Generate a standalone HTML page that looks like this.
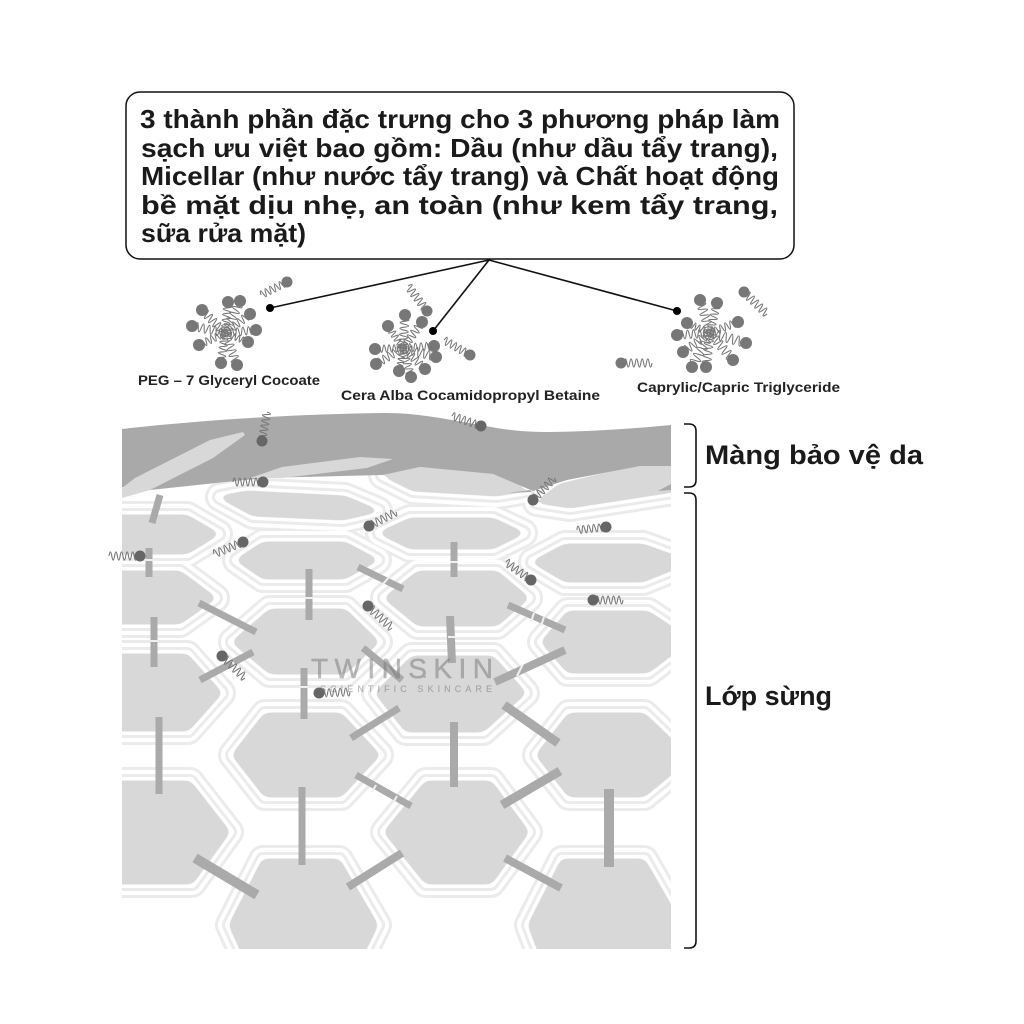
<!DOCTYPE html>
<html lang="vi">
<head>
<meta charset="utf-8">
<title>Thành phần làm sạch</title>
<style>
html,body{margin:0;padding:0;background:#fff;width:1024px;height:1024px;overflow:hidden}
svg{display:block}
text{font-family:"Liberation Sans","DejaVu Sans",sans-serif}
</style>
</head>
<body>
<svg width="1024" height="1024" viewBox="0 0 1024 1024" xmlns="http://www.w3.org/2000/svg">
<defs>
<path id="w" vector-effect="non-scaling-stroke" fill="none" d="M.1 0Q.145 -.26 .19 0T.28 0T.37 0T.46 0T.55 0T.64 0T.73 0T.82 0T.91 0T1 0"/>
<clipPath id="c"><rect x="122" y="400" width="549" height="549"/></clipPath>
<filter id="r" filterUnits="userSpaceOnUse" x="60" y="400" width="680" height="620" color-interpolation-filters="sRGB">
<feGaussianBlur stdDeviation="4"/>
<feColorMatrix type="matrix" values="1 0 0 0 0 0 1 0 0 0 0 0 1 0 0 0 0 0 12 -5.5"/>
</filter>
<g id="hexes" stroke-linejoin="round">
<polygon points="220,497 247,492 345,497 378,511 343,519 253,515"/>
<polygon points="383,475 420,467 493,474 527,490 497,495 413,490"/>
<polygon points="537,502 560,485 640,466 680,466 680,490 570,507"/>
<polygon points="100,516 187,516 218,534 187,553 100,553"/>
<polygon points="237,560 263,543 345,543 377,560 345,578 263,578"/>
<polygon points="380,533 410,519 493,519 523,533 493,548 410,548"/>
<polygon points="533,562 565,545 643,545 690,562 643,581 565,581"/>
<polygon points="100,572 180,572 215,598 180,623 100,623"/>
<polygon points="233,642 270,610 345,610 378,642 345,673 270,673"/>
<polygon points="385,598 418,572 497,572 528,598 497,625 418,625"/>
<polygon points="542,642 568,612 648,612 690,640 648,672 568,672"/>
<polygon points="100,655 187,655 221,693 188,730 100,730"/>
<polygon points="376,693 412,657 493,657 525,693 483,731 406,731"/>
<polygon points="233,755 265,714 341,714 379,755 341,796 265,796"/>
<polygon points="537,755 569,714 644,714 690,758 644,796 569,796"/>
<polygon points="100,782 190,782 229,832 192,883 100,883"/>
<polygon points="385,832 426,782 491,782 528,832 491,883 426,883"/>
<polygon points="230,925 263,860 339,860 377,925 350,980 255,980"/>
<polygon points="529,925 562,860 644,860 690,940 690,980 550,980"/>
</g>
</defs>

<!-- title box -->
<rect x="126" y="92" width="668" height="167" rx="14" fill="#fff" stroke="#111" stroke-width="1.5"/>
<g font-size="26" font-weight="700" fill="#1a1a1a">
<text x="140" y="128" textLength="640" lengthAdjust="spacingAndGlyphs">3 thành phần đặc trưng cho 3 phương pháp làm</text>
<text x="141" y="157" textLength="637" lengthAdjust="spacingAndGlyphs">sạch ưu việt bao gồm: Dầu (như dầu tẩy trang),</text>
<text x="141" y="185" textLength="638" lengthAdjust="spacingAndGlyphs">Micellar (như nước tẩy trang) và Chất hoạt động</text>
<text x="141" y="214" textLength="637" lengthAdjust="spacingAndGlyphs">bề mặt dịu nhẹ, an toàn (như kem tẩy trang,</text>
<text x="141" y="242" textLength="165" lengthAdjust="spacingAndGlyphs">sữa rửa mặt)</text>
</g>

<!-- skin layers -->
<g clip-path="url(#c)">
<use href="#hexes" fill="#ebebeb" stroke="#ebebeb" stroke-width="30"/>
<use href="#hexes" fill="#fff" stroke="#fff" stroke-width="24"/>
<use href="#hexes" fill="#ebebeb" stroke="#ebebeb" stroke-width="16"/>
<use href="#hexes" fill="#fff" stroke="#fff" stroke-width="10"/>
<use href="#hexes" fill="#d8d8d8" stroke="#d8d8d8" stroke-width="3" filter="url(#r)"/>

<path d="M122 429C200 420 300 414 385 413C420 413 450 420 480 425C510 431 530 432 547 432C590 432 640 428 671 425L671 466L640 466L567 480L533 491L493 474L420 467L383 475L263 478L150 490L122 487Z" fill="#a9a9a9"/>
<polygon points="122,498 122,488 135,478 210,440 243,432 245,435 213,458 150,490" fill="#d8d8d8"/>
<polygon points="250,478 282,467 360,457 393,459 367,468 283,478" fill="#d8d8d8"/>
<polygon points="383,475 420,467 493,474 527,490 497,495 413,490" fill="#d8d8d8"/>
<polygon points="508,493 530,490 532,492" fill="#a9a9a9"/>
<polygon points="537,502 560,485 640,466 671,467 671,490 570,507" fill="#d8d8d8"/>
<polygon points="658,491 671,484 671,490" fill="#a9a9a9"/>

<!-- bars -->
<g stroke="#aaa" fill="none">
<path stroke-width="7" d="M160 495L152 523M149 548V577M154 617V667M199 603L256 632M358 567L403 589M309 569V620M454 542V577M200 680L253 652M304 668V719M363 648L402 680M508 605L565 630M351 738L399 708M159 717V794M302 787V865M356 775L411 806"/>
<path stroke-width="8" d="M450 616L452 663M495 682L565 650M454 722V787M348 887L402 853M505 858L561 888"/>
<path stroke-width="9" d="M504 705L558 743M502 805L560 771"/>
<path stroke-width="10" d="M609 789V867M195 858L257 895"/>
</g>
<g stroke="#f0f0f0" stroke-width="2" fill="none">
<path d="M145 560H153M150 641H158M300 687H308M305 598H313M450 562H458M448 637H456"/>
<path d="M383 584L390 576M531 622L534 613M541 626L544 617M517 676L523 664M372 792L376 785M393 803L397 796M232 661L236 668"/>
</g>
</g>

<!-- connectors -->
<g stroke="#111" stroke-width="1.6" fill="none">
<path d="M489 260L270 308M489 260L433 331M489 260L677 311"/>
</g>
<circle cx="270" cy="308" r="4" fill="#000"/>
<circle cx="433" cy="331" r="4" fill="#000"/>
<circle cx="677" cy="311" r="4" fill="#000"/>

<!-- molecule tails -->
<g stroke="#777" stroke-width="1.1">
<use href="#w" transform="matrix(-3 31 -31 -3 228 302)"/>
<use href="#w" transform="matrix(-15 32 -32 -15 240 301)"/>
<use href="#w" transform="matrix(23 23 -23 23 202 310)"/>
<use href="#w" transform="matrix(-25 19 -19 -25 250 314)"/>
<use href="#w" transform="matrix(33 7 -7 33 192 326)"/>
<use href="#w" transform="matrix(-31 3 -3 -31 256 330)"/>
<use href="#w" transform="matrix(26 -12 12 26 199 345)"/>
<use href="#w" transform="matrix(-23 -9 9 -23 248 342)"/>
<use href="#w" transform="matrix(4 -30 30 4 221 363)"/>
<use href="#w" transform="matrix(-12 -32 32 -12 237 365)"/>

<use href="#w" transform="matrix(-2 33 -33 -2 405 315)"/>
<use href="#w" transform="matrix(-19 26 -26 -19 422 322)"/>
<use href="#w" transform="matrix(15 22 -22 15 388 326)"/>
<use href="#w" transform="matrix(-31 2 -2 -31 434 346)"/>
<use href="#w" transform="matrix(-33 -9 9 -33 436 357)"/>
<use href="#w" transform="matrix(28 -1 1 28 375 349)"/>
<use href="#w" transform="matrix(27 -16 16 27 376 364)"/>
<use href="#w" transform="matrix(-22 -21 21 -22 425 369)"/>
<use href="#w" transform="matrix(4 -23 23 4 399 371)"/>
<use href="#w" transform="matrix(-8 -29 29 -8 411 377)"/>

<use href="#w" transform="matrix(10 33 -33 10 700 300)"/>
<use href="#w" transform="matrix(-7 30 -30 -7 717 303)"/>
<use href="#w" transform="matrix(23 10 -10 23 687 323)"/>
<use href="#w" transform="matrix(-28 11 -11 -28 738 322)"/>
<use href="#w" transform="matrix(33 -2 2 33 677 335)"/>
<use href="#w" transform="matrix(-36 -10 10 -36 746 343)"/>
<use href="#w" transform="matrix(27 -19 19 27 683 352)"/>
<use href="#w" transform="matrix(-23 -27 27 -23 733 360)"/>
<use href="#w" transform="matrix(18 -34 34 18 692 367)"/>
<use href="#w" transform="matrix(4 -34 34 4 706 367)"/>

<use href="#w" transform="matrix(-26 13 -13 -26 287 282)"/>
<use href="#w" transform="matrix(-19 -25 25 -19 427 311)"/>
<use href="#w" transform="matrix(-26 -15 15 -26 470 355)"/>
<use href="#w" transform="matrix(23 22 -22 23 744 292)"/>
<use href="#w" transform="matrix(31 0 0 31 621 363)"/>
<use href="#w" transform="matrix(5 -29 29 5 262 441)"/>
<use href="#w" transform="matrix(-30 0 0 -30 263 482)"/>
<use href="#w" transform="matrix(27 -14 14 27 369 526)"/>
<use href="#w" transform="matrix(-29 12 -12 -29 243 542)"/>
<use href="#w" transform="matrix(-31 0 0 -31 140 556)"/>
<use href="#w" transform="matrix(24 22 -22 24 368 606)"/>
<use href="#w" transform="matrix(23 22 -22 23 222 656)"/>
<use href="#w" transform="matrix(31 -1 1 31 319 693)"/>
<use href="#w" transform="matrix(-29 -10 10 -29 481 426)"/>
<use href="#w" transform="matrix(21 -22 22 21 533 500)"/>
<use href="#w" transform="matrix(-29 3 -3 -29 606 527)"/>
<use href="#w" transform="matrix(-25 -18 18 -25 531 580)"/>
<use href="#w" transform="matrix(30 0 0 30 593 600)"/>
</g>

<!-- molecule heads -->
<g fill="#777">
<circle cx="228" cy="302" r="6"/><circle cx="240" cy="301" r="6"/><circle cx="202" cy="310" r="6"/><circle cx="250" cy="314" r="6"/><circle cx="192" cy="326" r="6"/><circle cx="256" cy="330" r="6"/><circle cx="199" cy="345" r="6"/><circle cx="248" cy="342" r="6"/><circle cx="221" cy="363" r="6"/><circle cx="237" cy="365" r="6"/>
<circle cx="405" cy="315" r="6"/><circle cx="422" cy="322" r="6"/><circle cx="388" cy="326" r="6"/><circle cx="434" cy="346" r="6"/><circle cx="436" cy="357" r="6"/><circle cx="375" cy="349" r="6"/><circle cx="376" cy="364" r="6"/><circle cx="425" cy="369" r="6"/><circle cx="399" cy="371" r="6"/><circle cx="411" cy="377" r="6"/>
<circle cx="700" cy="300" r="6"/><circle cx="717" cy="303" r="6"/><circle cx="687" cy="323" r="6"/><circle cx="738" cy="322" r="6"/><circle cx="677" cy="335" r="6"/><circle cx="746" cy="343" r="6"/><circle cx="683" cy="352" r="6"/><circle cx="733" cy="360" r="6"/><circle cx="692" cy="367" r="6"/><circle cx="706" cy="367" r="6"/>
<circle cx="287" cy="282" r="5.5"/><circle cx="427" cy="311" r="5.5"/><circle cx="470" cy="355" r="5.5"/><circle cx="744" cy="292" r="5.5"/><circle cx="621" cy="363" r="5.5"/>
<circle cx="262" cy="441" r="5.5" fill="#666"/><circle cx="263" cy="482" r="5.5" fill="#666"/><circle cx="369" cy="526" r="5.5" fill="#666"/><circle cx="243" cy="542" r="5.5" fill="#666"/><circle cx="140" cy="556" r="5.5" fill="#666"/><circle cx="368" cy="606" r="5.5" fill="#666"/><circle cx="222" cy="656" r="5.5" fill="#666"/><circle cx="319" cy="693" r="5.5" fill="#666"/><circle cx="481" cy="426" r="5.5" fill="#666"/><circle cx="533" cy="500" r="5.5" fill="#666"/><circle cx="606" cy="527" r="5.5" fill="#666"/><circle cx="531" cy="580" r="5.5" fill="#666"/><circle cx="593" cy="600" r="5.5" fill="#666"/>
</g>

<!-- labels -->
<g font-size="13.5" font-weight="700" fill="#222">
<text x="138" y="385" textLength="182" lengthAdjust="spacingAndGlyphs">PEG – 7 Glyceryl Cocoate</text>
<text x="341" y="400" textLength="259" lengthAdjust="spacingAndGlyphs">Cera Alba Cocamidopropyl Betaine</text>
<text x="637" y="392" textLength="203" lengthAdjust="spacingAndGlyphs">Caprylic/Capric Triglyceride</text>
</g>

<!-- logo -->
<g fill="#777" opacity=".5">
<text x="311" y="678" font-size="28" textLength="182" stroke="#777" stroke-width=".5">TWINSKIN</text>
<rect x="413" y="676" width="13" height="1.5"/>
<text x="320" y="692" font-size="9" textLength="172" stroke="#777" stroke-width=".2">SCIENTIFIC SKINCARE</text>
</g>

<!-- brackets -->
<g fill="none" stroke="#111" stroke-width="1.6">
<path d="M684 424H689Q696 424 696 431V480Q696 487 689 487H684"/>
<path d="M684 493H689Q696 493 696 500V941Q696 948 689 948H684"/>
</g>
<g font-size="27" font-weight="700" fill="#1a1a1a">
<text x="705" y="464" textLength="218" lengthAdjust="spacingAndGlyphs">Màng bảo vệ da</text>
<text x="705" y="705" textLength="127" lengthAdjust="spacingAndGlyphs">Lớp sừng</text>
</g>
</svg>
</body>
</html>
